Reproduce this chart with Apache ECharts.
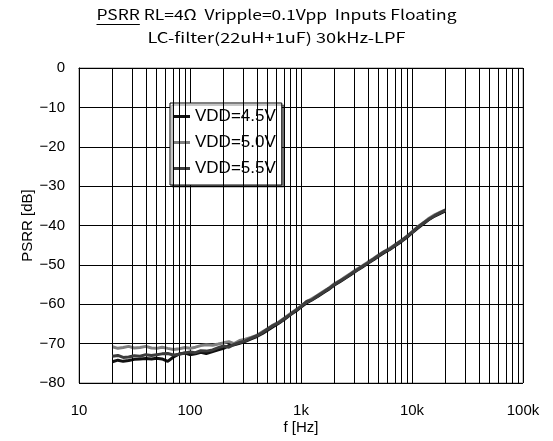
<!DOCTYPE html>
<html>
<head>
<meta charset="utf-8">
<script src="https://cdn.jsdelivr.net/npm/echarts@6/dist/echarts.min.js"></script>
<style>html,body{margin:0;padding:0;background:#fff}#c{width:553px;height:441px}</style>
</head>
<body>
<div id="c"></div>
<script>
const freqs = [20, 22.4, 25, 28, 31.5, 35.5, 40, 45, 50, 56, 63, 71, 80, 90, 100, 112, 125, 140, 160, 180, 200, 224, 250,
  280, 315, 355, 400, 450, 500, 560, 630, 710, 800, 900, 1000, 1120, 1250, 1400, 1600, 1800, 2000, 2240, 2500, 2800,
  3150, 3550, 4000, 4500, 5000, 5600, 6300, 7100, 8000, 9000, 10000, 11200, 12500, 14000, 16000, 18000, 20000];

const vdd45 = [-74.6, -74.2, -74.5, -74.3, -74.0, -73.9, -73.8, -73.9, -73.7, -73.9, -74.5, -73.4, -72.6, -72.4, -72.8, -72.6, -72.2, -72.5, -72.0, -71.6, -71.2, -70.5, -70.3,
  -69.9, -69.4, -68.8, -68.2, -67.4, -66.6, -65.7, -64.8, -63.8, -62.7, -61.7, -60.7, -59.7, -58.9, -58.1, -57.0, -56.1, -55.1, -54.3, -53.4,
  -52.5, -51.5, -50.6, -49.6, -48.7, -47.8, -46.9, -46.1, -45.1, -44.1, -43.0, -41.9, -40.7, -39.7, -38.6, -37.6, -36.9, -36.3];

const vdd50 = [-70.8, -71.2, -71.0, -70.7, -71.1, -71.0, -70.7, -71.1, -71.2, -70.9, -71.2, -71.5, -71.3, -71.0, -71.2, -70.9, -70.5, -70.3, -70.4, -70.1, -69.8, -69.5, -70.0,
  -69.2, -68.9, -68.4, -67.9, -67.0, -66.2, -65.3, -64.5, -63.5, -62.4, -61.4, -60.4, -59.4, -58.6, -57.8, -56.7, -55.8, -54.8, -54.0, -53.1,
  -52.2, -51.2, -50.3, -49.3, -48.4, -47.5, -46.6, -45.8, -44.8, -43.8, -42.7, -41.6, -40.4, -39.4, -38.3, -37.3, -36.6, -36.0];

const vdd55 = [-73.2, -73.0, -73.5, -73.4, -73.1, -73.2, -72.8, -73.0, -72.8, -72.6, -72.5, -72.9, -72.7, -72.4, -72.1, -72.3, -71.8, -71.9, -71.6, -71.0, -70.6, -70.9, -70.2,
  -69.7, -69.3, -68.6, -68.0, -67.2, -66.3, -65.4, -64.7, -63.6, -62.6, -61.5, -60.6, -59.3, -58.9, -57.9, -56.9, -55.9, -55.0, -54.1, -53.3,
  -52.3, -51.4, -50.4, -49.5, -48.5, -47.6, -46.7, -46.0, -44.9, -43.9, -42.8, -41.7, -40.5, -39.5, -38.5, -37.5, -36.7, -36.1];

const seriesNames = ['VDD=4.5V', 'VDD=5.0V', 'VDD=5.5V'];
const seriesColors = ['#111111', '#808080', '#3c3c3c'];
const xTickLabels = {10: '10', 100: '100', 1000: '1k', 10000: '10k', 100000: '100k'};
const titleWord = 'PSRR';
const titleLine1 = 'RL=4Ω  Vripple=0.1Vpp  Inputs Floating';
const titleLine2 = 'LC-filter(22uH+1uF) 30kHz-LPF';

// minor log grid positions (2..9 x each decade)
const minorGrid = [];
[10, 100, 1000, 10000].forEach(d => { for (let m = 2; m <= 9; m++) minorGrid.push(m * d); });

const pairs = vals => freqs.map((f, i) => [f, vals[i]]);
const allVals = [vdd45, vdd50, vdd55];

// title metrics (gothic-style wide text: stretch horizontally)
const titleFont = '14px "Noto Sans CJK JP", sans-serif';
const mctx = document.createElement('canvas').getContext('2d');
mctx.font = titleFont;
const fullLine1 = titleWord + ' ' + titleLine1;
const w1 = mctx.measureText(fullLine1).width;
const w2 = mctx.measureText(titleLine2).width;
const wP = mctx.measureText(titleWord).width;
const s1 = 360 / w1, s2 = 258 / w2;

const axisFont = '"Liberation Sans", Arial, sans-serif';
const chart = echarts.init(document.getElementById('c'), null, {renderer: 'canvas'});
chart.setOption({
  animation: false,
  backgroundColor: '#fff',
  grid: {left: 79, right: 30, top: 68, bottom: 58, show: true, borderColor: '#888', borderWidth: 1, outerBoundsMode: 'none'},
  legend: {
    orient: 'vertical', left: 170, top: 103,
    data: seriesNames.map(n => ({name: n, icon: 'rect'})),
    itemWidth: 16, itemHeight: 3, itemGap: 9,
    padding: [5, 6, 8, 4],
    backgroundColor: '#fff', borderColor: '#000', borderWidth: 1,
    shadowColor: 'rgba(0,0,0,0.45)', shadowOffsetX: 2, shadowOffsetY: 2, shadowBlur: 0,
    textStyle: {fontSize: 17, color: '#000', fontFamily: axisFont, lineHeight: 17}
  },
  xAxis: {
    type: 'log', logBase: 10, min: 10, max: 100000,
    name: 'f [Hz]', nameLocation: 'middle', nameGap: 37, nameMoveOverlap: false,
    nameTextStyle: {fontSize: 15, color: '#000', fontFamily: axisFont},
    axisLine: {show: true, lineStyle: {color: '#000', width: 1}},
    axisTick: {show: false},
    axisLabel: {margin: 20, fontSize: 15, color: '#000', fontFamily: axisFont,
      formatter: v => xTickLabels[Math.round(v)] || ''},
    splitLine: {show: true, lineStyle: {color: '#000', width: 1}}
  },
  yAxis: {
    type: 'value', min: -80, max: 0, interval: 10,
    name: 'PSRR [dB]', nameLocation: 'middle', nameGap: 44, nameRotate: 90, nameMoveOverlap: false,
    nameTextStyle: {fontSize: 15, color: '#000', fontFamily: axisFont},
    axisLine: {show: true, lineStyle: {color: '#000', width: 1}},
    axisTick: {show: false},
    axisLabel: {margin: 14, fontSize: 15, color: '#000', fontFamily: axisFont,
      formatter: v => v < 0 ? '\u2212' + Math.abs(v) : String(v)},
    splitLine: {show: true, lineStyle: {color: '#000', width: 1}}
  },
  graphic: [
    {
      type: 'group', x: 276.5, y: 15, scaleX: s1, z: 100,
      children: [
        {type: 'text', x: 0, y: 0, style: {text: fullLine1, font: titleFont, fill: '#000',
          align: 'center', verticalAlign: 'middle', textAlign: 'center', textVerticalAlign: 'middle'}},
        {type: 'line', shape: {x1: -w1 / 2, y1: 9.5, x2: -w1 / 2 + wP, y2: 9.5},
          style: {stroke: '#000', lineWidth: 1}}
      ]
    },
    {
      type: 'text', x: 276.5, y: 38, scaleX: s2, z: 100,
      style: {text: titleLine2, font: titleFont, fill: '#000',
        align: 'center', verticalAlign: 'middle', textAlign: 'center', textVerticalAlign: 'middle'}
    }
  ],
  series: [
    {
      type: 'line', name: '_grid', data: [], z: 1, silent: true,
      markLine: {
        silent: true, symbol: ['none', 'none'], label: {show: false}, animation: false,
        lineStyle: {color: '#000', width: 1, type: 'solid'},
        emphasis: {disabled: true},
        data: minorGrid.map(v => ({xAxis: v}))
      }
    }
  ].concat(seriesNames.map((n, i) => ({
    type: 'line', name: n, data: pairs(allVals[i]), z: 3 + i,
    symbol: 'none', smooth: false,
    lineStyle: {color: seriesColors[i], width: 3},
    itemStyle: {color: seriesColors[i]}
  })))
});
</script>
</body>
</html>
